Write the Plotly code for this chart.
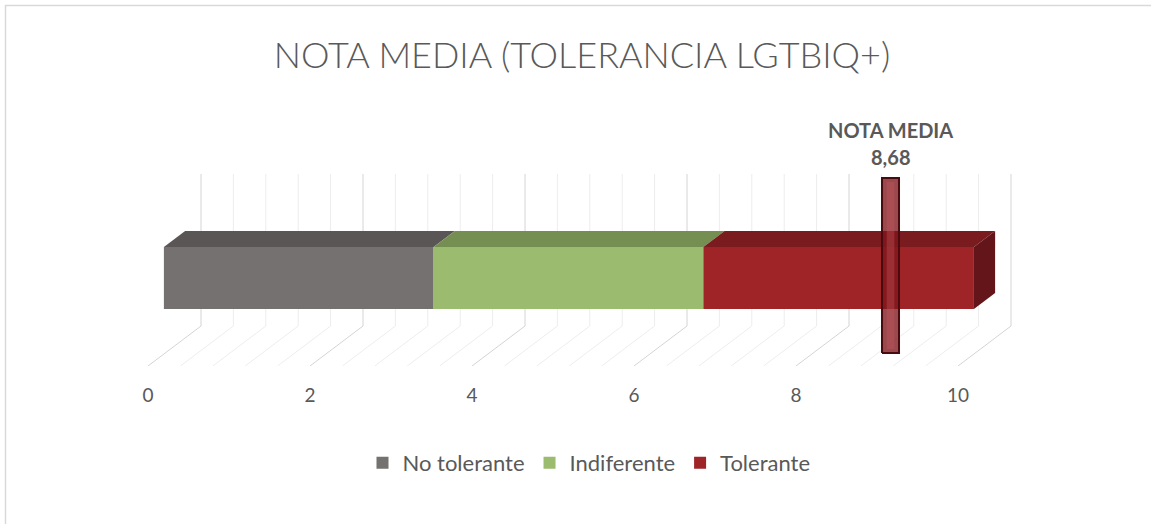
import plotly.graph_objects as go

# ---------------- data ----------------
categories = ["No tolerante", "Indiferente", "Tolerante"]
values = [3.33, 3.33, 3.34]
nota_media = 8.68
tick_vals = [0, 2, 4, 6, 8, 10]
tick_text = ["0", "2", "4", "6", "8", "10"]
axis_max = 10

# ---------------- style / layout constants ----------------
face_colors = ["#767171", "#9BBB6F", "#9E2428"]
top_colors = ["#5B5656", "#758F52", "#7A1C1F"]
side_color = "#63151A"
text_color = "#595959"

W, H = 1151, 524
PX = 81.0          # pixels per value unit
X0 = 148           # screen x of value 0 on the floor front edge
FLOOR_Y = 366      # screen y of floor front edge
DX, DY = 53, 40    # oblique offset of full depth (px)
WALL_H = 152       # back wall height (px)
Z_FRONT, Z_BACK = 0.30, 0.70   # bar depth span
H_BOT, H_TOP = 45, 107         # bar height span above floor
Z_MARK = 0.744
MARK_HALF = 8.5 / PX
MARK_V0, MARK_V1 = 13, 188


def proj(x, z, h):
    """oblique projection -> (axis x, axis y)"""
    return x + DX * z / PX, DY * z + h


fig = go.Figure()

# ---------------- back wall & floor grid (as shapes below traces) ----------------
n_minor = int(round(axis_max / 0.4))
for i in range(n_minor + 1):
    g = i * 0.4
    is_major = abs(g / 2 - round(g / 2)) < 1e-6
    col = "#D4D4D4" if is_major else "#EDEDED"
    (u1, v1), (u2, v2), (u3, v3) = proj(g, 1, WALL_H), proj(g, 1, 0), proj(g, 0, 0)
    path = f"M{u1},{v1} L{u2},{v2} L{u3},{v3}"
    fig.add_shape(type="path", path=path, xref="x", yref="y",
                  line=dict(color=col, width=1), layer="below")

# ---------------- bars ----------------
starts = []
acc = 0
for v in values:
    starts.append(acc)
    acc += v

off_front = DX * Z_FRONT / PX
vf0 = DY * Z_FRONT + H_BOT
vf1 = DY * Z_FRONT + H_TOP
for cat, val, s, fc in zip(categories, values, starts, face_colors):
    fig.add_trace(go.Bar(
        y=[(vf0 + vf1) / 2], x=[val], base=[s + off_front],
        width=vf1 - vf0, orientation="h", name=cat,
        marker=dict(color=fc, line=dict(width=0)),
        hoverinfo="skip"))

# top faces
for val, s, tc in zip(values, starts, top_colors):
    e = s + val
    pts = [proj(s, Z_FRONT, H_TOP), proj(e, Z_FRONT, H_TOP),
           proj(e, Z_BACK, H_TOP), proj(s, Z_BACK, H_TOP), proj(s, Z_FRONT, H_TOP)]
    fig.add_trace(go.Scatter(x=[p[0] for p in pts], y=[p[1] for p in pts],
                             fill="toself", fillcolor=tc, mode="lines",
                             line=dict(width=0, color=tc),
                             showlegend=False, hoverinfo="skip"))

# right side face of last segment
end = starts[-1] + values[-1]
pts = [proj(end, Z_FRONT, H_BOT), proj(end, Z_BACK, H_BOT),
       proj(end, Z_BACK, H_TOP), proj(end, Z_FRONT, H_TOP), proj(end, Z_FRONT, H_BOT)]
fig.add_trace(go.Scatter(x=[p[0] for p in pts], y=[p[1] for p in pts],
                         fill="toself", fillcolor=side_color, mode="lines",
                         line=dict(width=0, color=side_color),
                         showlegend=False, hoverinfo="skip"))

# ---------------- nota media marker ----------------
mu, _ = proj(nota_media, Z_MARK, 0)
mx = [mu - MARK_HALF, mu + MARK_HALF, mu + MARK_HALF, mu - MARK_HALF, mu - MARK_HALF]
my = [MARK_V0, MARK_V0, MARK_V1, MARK_V1, MARK_V0]
fig.add_trace(go.Scatter(x=mx, y=my, fill="toself",
                         fillcolor="rgba(125,22,28,0.78)", mode="lines",
                         line=dict(width=2, color="#4A0B0E"),
                         showlegend=False, hoverinfo="skip"))
inner = MARK_HALF * 0.45
fig.add_trace(go.Scatter(x=[mu - inner, mu + inner, mu + inner, mu - inner, mu - inner],
                         y=[MARK_V0 + 4, MARK_V0 + 4, MARK_V1 - 4, MARK_V1 - 4, MARK_V0 + 4],
                         fill="toself", fillcolor="rgba(200,90,95,0.35)", mode="lines",
                         line=dict(width=0), showlegend=False, hoverinfo="skip"))

nota_txt = f"{nota_media:.2f}".replace(".", ",")
fig.add_annotation(x=mu, y=FLOOR_Y - 130, text="<b>NOTA MEDIA</b>", showarrow=False,
                   font=dict(family="Lato", size=20, color=text_color),
                   xanchor="center", yanchor="middle")
fig.add_annotation(x=mu, y=FLOOR_Y - 157, text=f"<b>{nota_txt}</b>", showarrow=False,
                   font=dict(family="Lato", size=20, color=text_color),
                   xanchor="center", yanchor="middle")

# ---------------- layout ----------------
fig.update_layout(
    width=W, height=H,
    margin=dict(l=0, r=0, t=0, b=0),
    paper_bgcolor="white", plot_bgcolor="white",
    barmode="overlay",
    title=dict(text="NOTA MEDIA (TOLERANCIA LGTBIQ+)", x=582 / W, xanchor="center",
               y=1 - 55 / H, yanchor="middle",
               font=dict(family="Lato", size=36, color=text_color, weight=300)),
    xaxis=dict(range=[-X0 / PX, (W - X0) / PX], showgrid=False, zeroline=False,
               showline=False, tickvals=tick_vals, ticktext=tick_text,
               ticks="outside", ticklen=12, tickcolor="rgba(0,0,0,0)",
               tickfont=dict(family="Lato", size=19, color=text_color),
               fixedrange=True),
    yaxis=dict(range=[0, FLOOR_Y], domain=[1 - FLOOR_Y / H, 1], visible=False,
               fixedrange=True),
    legend=dict(orientation="h", x=589 / W, xanchor="center", y=1 - 463 / H,
                yanchor="middle", traceorder="normal",
                font=dict(family="Lato", size=22, color=text_color)),
    showlegend=True,
)

fig.add_shape(type="rect", xref="paper", yref="paper",
              x0=5.5 / W, y0=-0.05, x1=1.05, y1=1 - 5.5 / H,
              line=dict(color="#D9D9D9", width=1.5), layer="above")

fig.write_html("out.html", config={"displayModeBar": False},
               post_script="document.body.style.margin='0';")
